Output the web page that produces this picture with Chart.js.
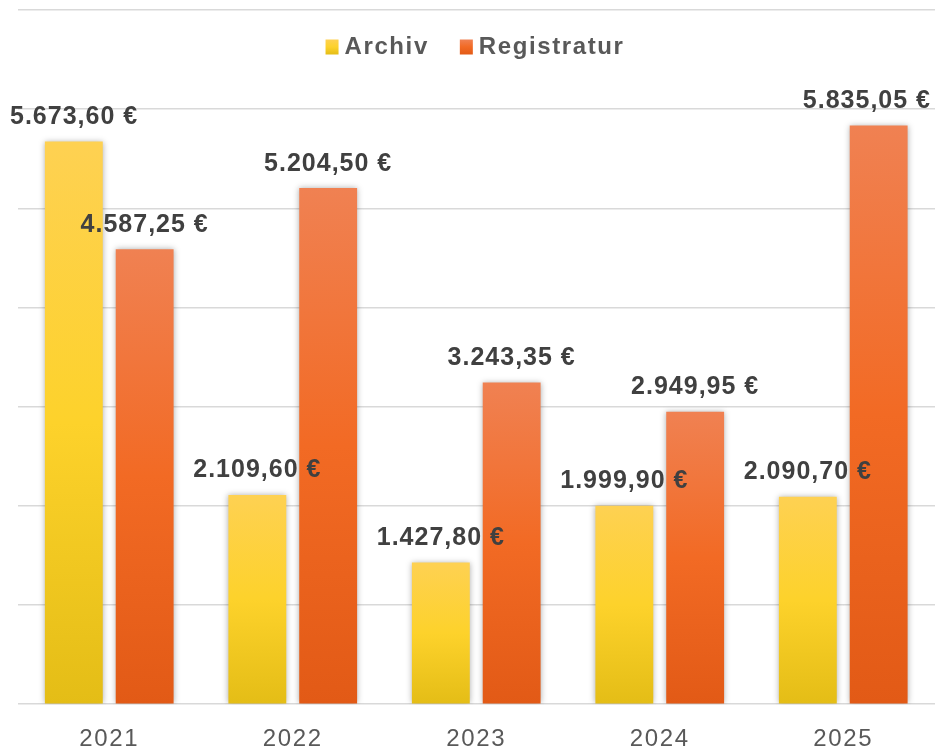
<!DOCTYPE html>
<html>
<head>
<meta charset="utf-8">
<script src="https://cdn.jsdelivr.net/npm/chart.js@4.4.1/dist/chart.umd.min.js"></script>
<style>
html,body{margin:0;padding:0;background:#fff;}
#wrap{width:935px;height:751px;position:relative;}
</style>
</head>
<body>
<div id="wrap"><canvas id="c" width="935" height="751"></canvas></div>
<script>
const categories = ['2021', '2022', '2023', '2024', '2025'];
const seriesNames = ['Archiv', 'Registratur'];
const archivValues = [5673.60, 2109.60, 1427.80, 1999.90, 2090.70];
const registraturValues = [4587.25, 5204.50, 3243.35, 2949.95, 5835.05];
const yTicks = [0, 1000, 2000, 3000, 4000, 5000, 6000, 7000];

const gradStops = {
  Archiv: ['#FED152', '#FDD22B', '#E4BD16'],
  Registratur: ['#F08152', '#F26A24', '#E25A16']
};

function fmtEuro(v) {
  const parts = v.toFixed(2).split('.');
  const intPart = parts[0].replace(/\B(?=(\d{3})+(?!\d))/g, '.');
  return intPart + ',' + parts[1] + ' €';
}

function barGradient(name) {
  return function (context) {
    const chart = context.chart;
    const area = chart.chartArea;
    if (!area || context.type !== 'data') return gradStops[name][1];
    const y = chart.scales.y;
    const top = y.getPixelForValue(context.raw);
    const bottom = y.getPixelForValue(0);
    const g = chart.ctx.createLinearGradient(0, top, 0, bottom);
    g.addColorStop(0, gradStops[name][0]);
    g.addColorStop(0.5, gradStops[name][1]);
    g.addColorStop(1, gradStops[name][2]);
    return g;
  };
}

Chart.defaults.font.family = "'Liberation Sans', Arial, sans-serif";

const spacingPlugin = {
  id: 'spacing',
  beforeUpdate(chart) { chart.ctx.letterSpacing = '1.6px'; },
  beforeLayout(chart) { chart.ctx.letterSpacing = '1.6px'; },
  beforeDraw(chart) { chart.ctx.letterSpacing = '1.6px'; }
};

const shadowPlugin = {
  id: 'barShadow',
  beforeDatasetsDraw(chart) {
    const ctx = chart.ctx;
    ctx.save();
    ctx.shadowColor = 'rgba(0,0,0,0.32)';
    ctx.shadowBlur = 6;
    ctx.shadowOffsetX = 0;
    ctx.shadowOffsetY = 0;
  },
  afterDatasetsDraw(chart) {
    chart.ctx.restore();
  }
};

const labelPlugin = {
  id: 'valueLabels',
  afterDatasetsDraw(chart) {
    const ctx = chart.ctx;
    ctx.save();
    ctx.letterSpacing = '1px';
    ctx.font = "bold 25px 'Liberation Sans', Arial, sans-serif";
    ctx.fillStyle = '#404040';
    ctx.textAlign = 'center';
    ctx.textBaseline = 'alphabetic';
    chart.data.datasets.forEach((ds, di) => {
      const meta = chart.getDatasetMeta(di);
      meta.data.forEach((bar, i) => {
        const txt = fmtEuro(ds.data[i]);
        const w = ctx.measureText(txt).width;
        let x = bar.x;
        if (x + w / 2 > 931) x = 931 - w / 2;
        if (x - w / 2 < 10) x = 10 + w / 2;
        ctx.fillText(txt, x, bar.y - 17.5);
      });
    });
    ctx.restore();
  }
};

const legendPlugin = {
  id: 'topLegend',
  afterDraw(chart) {
    const ctx = chart.ctx;
    ctx.save();
    ctx.letterSpacing = '1.6px';
    ctx.font = "bold 24px 'Liberation Sans', Arial, sans-serif";
    ctx.textBaseline = 'middle';
    ctx.textAlign = 'left';
    const boxW = 13, boxH = 15, gapBox = 6, gapItem = 31;
    const widths = seriesNames.map(n => ctx.measureText(n).width);
    let total = 0;
    widths.forEach((w, i) => { total += boxW + gapBox + w + (i ? gapItem : 0); });
    let x = 475 - total / 2;
    const cy = 47;
    seriesNames.forEach((n, i) => {
      const st = gradStops[n];
      const g = ctx.createLinearGradient(0, cy - boxH / 2, 0, cy + boxH / 2);
      g.addColorStop(0, st[0]); g.addColorStop(0.5, st[1]); g.addColorStop(1, st[2]);
      ctx.fillStyle = g;
      ctx.fillRect(x, cy - boxH / 2, boxW, boxH);
      x += boxW + gapBox;
      ctx.fillStyle = '#595959';
      ctx.fillText(n, x, cy);
      x += widths[i] + gapItem;
    });
    ctx.restore();
  }
};

new Chart(document.getElementById('c'), {
  type: 'bar',
  data: {
    labels: categories,
    datasets: [
      {
        label: seriesNames[0],
        data: archivValues,
        backgroundColor: barGradient('Archiv'),
        borderWidth: 0,
        categoryPercentage: 0.772,
        barPercentage: 0.817
      },
      {
        label: seriesNames[1],
        data: registraturValues,
        backgroundColor: barGradient('Registratur'),
        borderWidth: 0,
        categoryPercentage: 0.772,
        barPercentage: 0.817
      }
    ]
  },
  options: {
    responsive: false,
    animation: false,
    devicePixelRatio: 1,
    layout: { padding: { left: 17.5, right: -2.5, top: 10, bottom: -24 } },
    plugins: {
      tooltip: { enabled: false },
      legend: { display: false }
    },
    scales: {
      x: {
        grid: { display: false, drawTicks: false },
        border: { display: false },
        ticks: {
          padding: 21,
          color: '#595959',
          font: { size: 24 }
        }
      },
      y: {
        min: 0,
        max: 7000,
        afterBuildTicks(scale) { scale.ticks = yTicks.map(v => ({ value: v })); },
        ticks: { display: false },
        grid: { color: '#d9d9d9', lineWidth: 1.5, drawTicks: false },
        border: { display: false }
      }
    }
  },
  plugins: [spacingPlugin, shadowPlugin, labelPlugin, legendPlugin]
});
</script>
</body>
</html>
